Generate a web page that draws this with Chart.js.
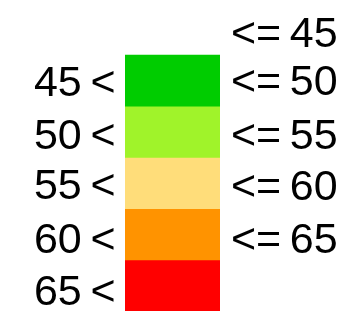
<!DOCTYPE html>
<html><head><meta charset="utf-8">
<script src="https://cdn.jsdelivr.net/npm/chart.js@4/dist/chart.umd.min.js"></script>
<style>html,body{margin:0;padding:0;background:#fff}#wrap{width:351px;height:311px}</style>
</head><body><div id="wrap"><canvas id="c" width="351" height="311"></canvas></div>
<script>
const lowerBounds = [45, 50, 55, 60, 65];
const upperBounds = [50, 55, 60, 65, 70];
const colors = ['#00CC00', '#A0F32A', '#FFDD7A', '#FF9300', '#FF0000'];
const leftLabels = ['45\u2009<', '50\u2009<', '55\u2009<', '60\u2009<', '65\u2009<'];
const leftTickValues = [47.85, 53.05, 57.95, 63.15, 68.25];
const rightLabels = ['<=\u200945', '<=\u200950', '<=\u200955', '<=\u200960', '<=\u200965'];
const rightTickValues = [43.05, 47.75, 53.05, 58.05, 63.15];
const axisMin = 39.63, axisMax = 70;

const datasets = lowerBounds.map((lo, i) => ({
  data: [[lo, upperBounds[i]]],
  backgroundColor: colors[i],
  borderWidth: 0,
  grouped: false,
  barPercentage: 1,
  categoryPercentage: 1,
  yAxisID: 'yL'
}));

function yAxis(position, values, labels, width, pad) {
  return {
    position, min: axisMin, max: axisMax, reverse: true,
    grid: { display: false, drawTicks: false, tickLength: 0 },
    border: { display: false },
    afterBuildTicks: s => { s.ticks = values.map(v => ({ value: v })); },
    afterFit: s => { s.width = width; s.paddingTop = 0; s.paddingBottom = 0; },
    ticks: {
      autoSkip: false, padding: pad, color: '#000',
      font: { family: '"Liberation Sans"', size: 43 },
      callback: (v) => { const k = values.indexOf(v); return k >= 0 ? labels[k] : ''; }
    }
  };
}

new Chart(document.getElementById('c'), {
  type: 'bar',
  data: { labels: [''], datasets },
  options: {
    responsive: false, animation: false,
    layout: { padding: 0 },
    plugins: { legend: { display: false }, tooltip: { enabled: false } },
    scales: {
      x: { display: false },
      yL: yAxis('left', leftTickValues, leftLabels, 125, 9.5),
      yR: yAxis('right', rightTickValues, rightLabels, 131, 11)
    }
  }
});
</script></body></html>
